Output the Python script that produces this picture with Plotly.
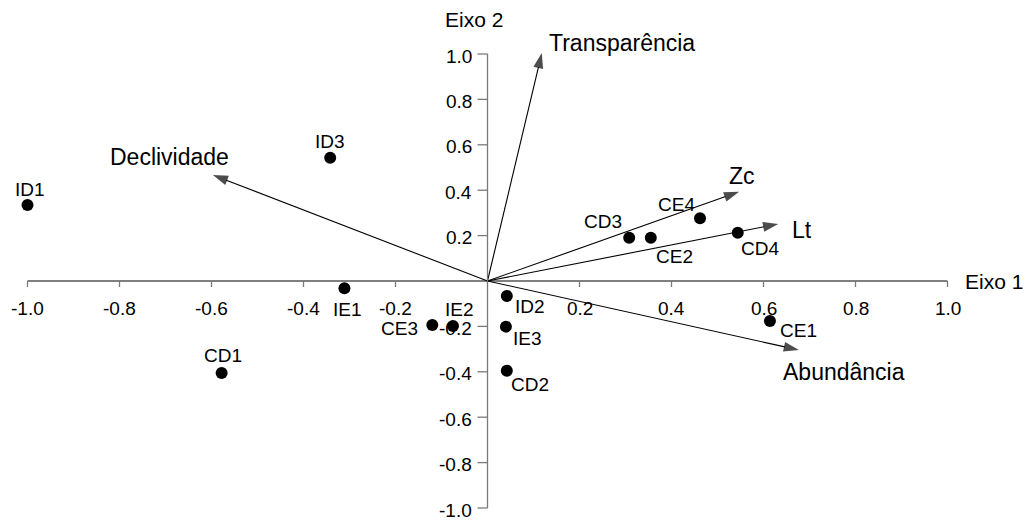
import plotly.graph_objects as go

# Site scores (Eixo 1, Eixo 2)
sites = ["ID1", "ID3", "IE1", "CE3", "IE2", "CD1", "ID2", "IE3", "CD2",
         "CE1", "CD3", "CE2", "CE4", "CD4"]
site_x = [-1.00, -0.342, -0.311, -0.120, -0.075, -0.578, 0.042, 0.040, 0.042,
          0.614, 0.308, 0.355, 0.462, 0.544]
site_y = [0.335, 0.543, -0.032, -0.194, -0.198, -0.405, -0.066, -0.201, -0.395,
          -0.176, 0.191, 0.191, 0.276, 0.213]

# Environmental variable vectors
variables = ["Transparência", "Declividade", "Zc", "Lt", "Abundância"]
var_x = [0.118, -0.597, 0.547, 0.632, 0.677]
var_y = [1.004, 0.467, 0.393, 0.251, -0.304]

# Axis ticks
tick_vals = [-1.0, -0.8, -0.6, -0.4, -0.2, 0.2, 0.4, 0.6, 0.8, 1.0]
tick_text = ["-1.0", "-0.8", "-0.6", "-0.4", "-0.2", "0.2", "0.4", "0.6", "0.8", "1.0"]

# Pixel offsets of the site labels relative to their points (dx right, dy up)
label_offsets = {
    "ID1": (2, 15), "ID3": (0, 16), "IE1": (3, -21), "CE3": (-33, -3),
    "IE2": (6, 16), "CD1": (1, 17), "ID2": (23, -11), "IE3": (22, -12),
    "CD2": (23, -14), "CE1": (29, -10), "CD3": (-26, 16), "CE2": (24, -19),
    "CE4": (-24, 14), "CD4": (22, -16),
}

# Label anchors for the vectors (left edge, vertical middle)
var_label_pos = {
    "Transparência": (0.129, 1.048),
    "Declividade": (-0.825, 0.548),
    "Zc": (0.520, 0.463),
    "Lt": (0.658, 0.225),
    "Abundância": (0.638, -0.401),
}

FONT = "Arial, Liberation Sans, Helvetica, sans-serif"
XS, YS = 460.0, 227.0          # pixels per unit
OX, OY = 487.5, 281.0          # origin in pixels
W, H = 1029, 522

fig = go.Figure()

# Axis lines and ticks
shapes = []
shapes.append(dict(type="line", x0=-1.0, x1=1.0, y0=0, y1=0,
                   line=dict(color="black", width=1)))
shapes.append(dict(type="line", x0=0, x1=0, y0=-1.0, y1=1.0,
                   line=dict(color="#7a7a7a", width=1.3)))
for v in tick_vals:
    shapes.append(dict(type="line", x0=v, x1=v, y0=0, y1=-6 / YS,
                       line=dict(color="#7a7a7a", width=1.3)))
    shapes.append(dict(type="line", x0=0, x1=-10 / XS, y0=v, y1=v,
                       line=dict(color="#7a7a7a", width=1.3)))

# Vectors with arrow heads
for name, vx, vy in zip(variables, var_x, var_y):
    fig.add_trace(go.Scatter(
        x=[0, vx], y=[0, vy], mode="lines+markers",
        line=dict(color="black", width=1.1),
        marker=dict(symbol="arrow", size=[0, 16], color="black",
                    angleref="previous", line=dict(width=0)),
        hoverinfo="skip", showlegend=False,
    ))

# Sites
fig.add_trace(go.Scatter(
    x=site_x, y=site_y, mode="markers",
    marker=dict(color="black", size=12),
    text=sites, hoverinfo="text", showlegend=False,
))

annotations = []
for name, sx, sy in zip(sites, site_x, site_y):
    dx, dy = label_offsets[name]
    annotations.append(dict(x=sx, y=sy, text=name, showarrow=False,
                            xshift=dx, yshift=dy, xanchor="center", yanchor="middle",
                            font=dict(family=FONT, size=19, color="black")))

for name in variables:
    lx, ly = var_label_pos[name]
    annotations.append(dict(x=lx, y=ly, text=name, showarrow=False,
                            xanchor="left", yanchor="middle",
                            font=dict(family=FONT, size=23, color="black")))

# Tick labels
for v, t in zip(tick_vals, tick_text):
    annotations.append(dict(x=v, y=0, text=t, showarrow=False, yshift=-27,
                            xanchor="center", yanchor="middle",
                            font=dict(family=FONT, size=19, color="black")))
    annotations.append(dict(x=0, y=v, text=t, showarrow=False, xshift=-14, yshift=-2,
                            xanchor="right", yanchor="middle",
                            font=dict(family=FONT, size=19, color="black")))

# Axis titles
annotations.append(dict(x=1.034, y=0.0, text="Eixo 1", showarrow=False,
                        xanchor="left", yanchor="middle",
                        font=dict(family=FONT, size=21, color="black")))
annotations.append(dict(x=-0.097, y=1.150, text="Eixo 2", showarrow=False,
                        xanchor="left", yanchor="middle",
                        font=dict(family=FONT, size=21, color="black")))

fig.update_layout(
    width=W, height=H,
    margin=dict(l=0, r=0, t=0, b=0),
    paper_bgcolor="white", plot_bgcolor="white",
    xaxis=dict(range=[-OX / XS, (W - OX) / XS], visible=False, fixedrange=True),
    yaxis=dict(range=[-(H - OY) / YS, OY / YS], visible=False, fixedrange=True),
    shapes=shapes, annotations=annotations,
)

fig.write_html("out.html")
